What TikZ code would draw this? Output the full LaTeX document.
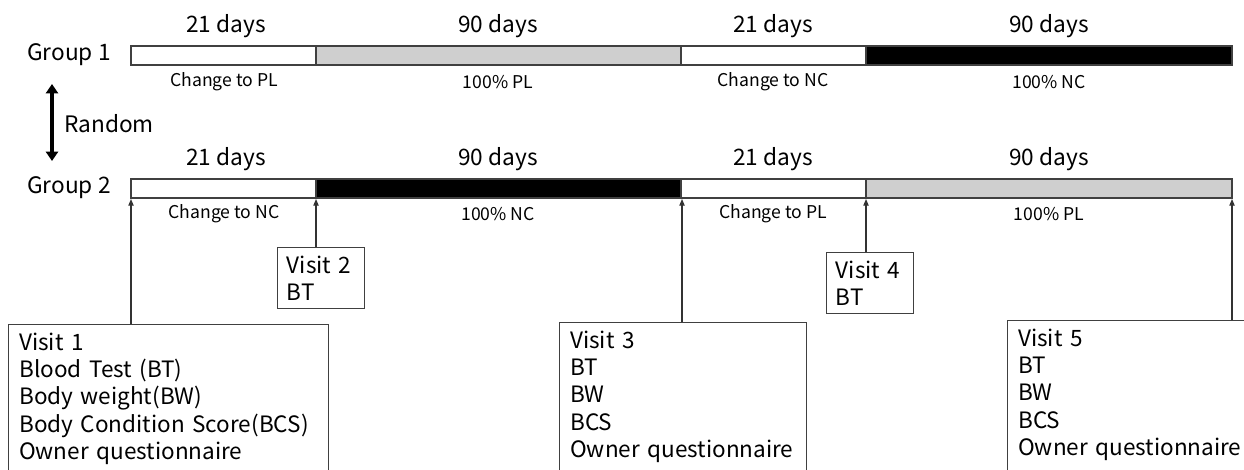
\documentclass[tikz,border=0pt]{standalone}
\usepackage{fontspec}
\setmainfont{Noto Sans CJK JP}
\usetikzlibrary{positioning,arrows.meta}
\newcommand{\tail}[0]{\rule[-30pt]{0pt}{0pt}}

\begin{document}
\begin{tikzpicture}[x=0.75pt, y=-0.75pt,
  big/.style={font=\fontsize{17}{20}\selectfont, inner sep=0pt},
  small/.style={font=\fontsize{13.2}{15}\selectfont, inner sep=0pt},
  seg/.style={draw=black!75, line width=0.9pt},
  pl/.style={seg, fill=black!19},
  nc/.style={seg, fill=black},
  visit/.style={draw=black!75, line width=0.8pt, align=left, anchor=north west,
    font=\fontsize{16.9}{20.6}\selectfont, inner xsep=8pt, inner ysep=6pt},
  arr/.style={-{Triangle[length=5pt, width=4pt]}, draw=black!80, line width=0.8pt},
  rand/.style={{Triangle[length=7pt, width=9pt]}-{Triangle[length=7pt, width=9pt]}, line width=2.6pt}]
\clip (0,0) rectangle (1244,469);
% group labels
\node[big] (g1) at (69,55) {Group 1};
\node[big] (g2) at (69,188) {Group 2};
\coordinate (r1) at (52,84);
\coordinate (r2) at (52,161);
\draw[rand] (r1) -- (r2);
\node[big, anchor=west] (rnd) at (64,124) {Random};
% Group 1 bar
\draw[seg, fill=white] (131,46) rectangle (316,65);
\draw[pl] (316,46) rectangle (681,65);
\draw[seg, fill=white] (681,46) rectangle (866,65);
\draw[nc] (866,46) rectangle (1232,65);
\node[big] (d11) at (226,26) {21 days};
\node[big] (d12) at (498,26) {90 days};
\node[big] (d13) at (773,26) {21 days};
\node[big] (d14) at (1049,26) {90 days};
\node[small] (c11) at (224,82) {Change to PL};
\node[small] (c12) at (498,82) {100\% PL};
\node[small] (c13) at (773,82) {Change to NC};
\node[small] (c14) at (1049,82) {100\% NC};
% Group 2 bar
\draw[seg, fill=white] (131,179) rectangle (316,198);
\draw[nc] (316,179) rectangle (681,198);
\draw[seg, fill=white] (681,179) rectangle (866,198);
\draw[pl] (866,179) rectangle (1232,198);
\node[big] (d21) at (226,159) {21 days};
\node[big] (d22) at (498,159) {90 days};
\node[big] (d23) at (773,159) {21 days};
\node[big] (d24) at (1049,159) {90 days};
\node[small] (c21) at (224,214) {Change to NC};
\node[small] (c22) at (498,214) {100\% NC};
\node[small] (c23) at (773,214) {Change to PL};
\node[small] (c24) at (1049,214) {100\% PL};
% visit time points
\coordinate (t1) at (131,199);
\coordinate (t2) at (316,199);
\coordinate (t3) at (682,199);
\coordinate (t4) at (866,199);
\coordinate (t5) at (1232,199);
% visits
\node[visit, text width=224pt] (v1) at (8,324) {Visit 1\\Blood Test (BT)\\Body weight(BW)\\Body Condition Score(BCS)\\Owner questionnaire\tail};
\node[visit, text width=51pt, inner xsep=7pt] (v2) at (277,247) {Visit 2\\BT};
\node[visit, text width=169pt] (v3) at (559,322) {Visit 3\\BT\\BW\\BCS\\Owner questionnaire\tail};
\node[visit, text width=51pt, inner xsep=7pt] (v4) at (826,252) {Visit 4\\BT};
\node[visit, text width=175pt] (v5) at (1007,320) {Visit 5\\BT\\BW\\BCS\\Owner questionnaire\tail};
\draw[arr] (v1.north -| t1) -- (t1);
\draw[arr] (v2.north -| t2) -- (t2);
\draw[arr] (v3.north -| t3) -- (t3);
\draw[arr] (v4.north -| t4) -- (t4);
\draw[arr] (v5.north -| t5) -- (t5);
\end{tikzpicture}
\end{document}
